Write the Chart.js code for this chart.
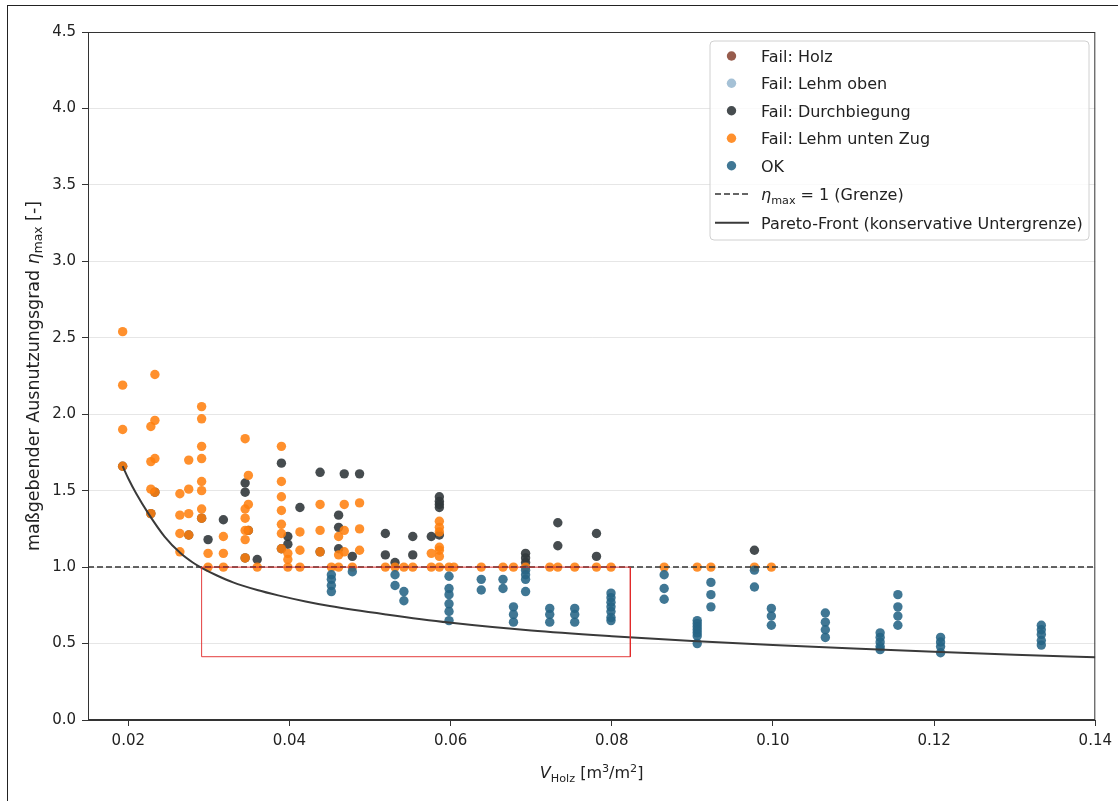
<!DOCTYPE html>
<html>
<head>
<meta charset="utf-8">
<script src="https://cdn.jsdelivr.net/npm/chart.js@4.4.1/dist/chart.umd.min.js"></script>
<style>
html,body{margin:0;padding:0;background:#fff;}
#wrap{position:relative;width:1118px;height:801px;overflow:hidden;}
#frame{position:absolute;left:7px;top:5px;right:-2px;bottom:-2px;border-left:1px solid #222;border-top:1px solid #222;pointer-events:none;}
canvas{position:absolute;left:0;top:0;}
</style>
</head>
<body>
<div id="wrap"><canvas id="c" width="1118" height="801" style="width:1118px;height:801px"></canvas><div id="frame"></div></div>
<script>
// ---------- DATA ----------
const xTicks = [0.02, 0.04, 0.06, 0.08, 0.10, 0.12, 0.14];
const xTickLabels = ['0.02', '0.04', '0.06', '0.08', '0.10', '0.12', '0.14'];
const yTicks = [0, 0.5, 1.0, 1.5, 2.0, 2.5, 3.0, 3.5, 4.0, 4.5];
const yTickLabels = ['0.0', '0.5', '1.0', '1.5', '2.0', '2.5', '3.0', '3.5', '4.0', '4.5'];
const xRange = [0.015, 0.14];
const yRange = [0, 4.5];

const seriesNames = ['Fail: Holz', 'Fail: Lehm oben', 'Fail: Durchbiegung', 'Fail: Lehm unten Zug', 'OK'];

// columns: [V_Holz, [eta values]]
const holzCols = [];
const lehmObenCols = [];
const durchCols = [
  [0.0193, [1.66]], [0.0228, [1.35]], [0.0233, [1.49]], [0.0275, [1.21]],
  [0.0291, [1.32]], [0.0299, [1.18]], [0.0318, [1.31]], [0.0345, [1.55, 1.49, 1.06]],
  [0.0349, [1.24]], [0.0360, [1.05]], [0.0390, [1.68, 1.12]], [0.0398, [1.20, 1.15]],
  [0.0413, [1.39]], [0.0438, [1.62, 1.10]], [0.0461, [1.34, 1.26, 1.12]], [0.0468, [1.61]],
  [0.0478, [1.07]], [0.0487, [1.61]], [0.0519, [1.22, 1.08]], [0.0531, [1.03]],
  [0.0553, [1.20, 1.08]], [0.0576, [1.20]], [0.0586, [1.46, 1.43, 1.41, 1.39, 1.21]],
  [0.0693, [1.09, 1.06, 1.03]], [0.0733, [1.29, 1.14]], [0.0781, [1.22, 1.07]], [0.0977, [1.11]]
];
const zugCols = [
  [0.0193, [2.54, 2.19, 1.90, 1.66]], [0.0228, [1.92, 1.69, 1.51, 1.35]],
  [0.0233, [2.26, 1.96, 1.71, 1.49]], [0.0264, [1.48, 1.34, 1.22, 1.10]],
  [0.0275, [1.70, 1.51, 1.35, 1.21]], [0.0291, [2.05, 1.97, 1.79, 1.71, 1.56, 1.50, 1.38, 1.32]],
  [0.0299, [1.09, 1.00]], [0.0318, [1.20, 1.09, 1.00]],
  [0.0345, [1.84, 1.38, 1.32, 1.24, 1.18, 1.06]], [0.0349, [1.60, 1.41, 1.24]],
  [0.0360, [1.00]], [0.0390, [1.79, 1.56, 1.46, 1.37, 1.28, 1.22, 1.12]],
  [0.0398, [1.09, 1.05, 1.00]], [0.0413, [1.23, 1.11, 1.00]], [0.0438, [1.41, 1.24, 1.10]],
  [0.0452, [1.00]], [0.0461, [1.20, 1.08, 1.00]], [0.0468, [1.41, 1.24, 1.10]],
  [0.0478, [1.00]], [0.0487, [1.42, 1.25, 1.11]], [0.0519, [1.00]], [0.0531, [1.00]],
  [0.0542, [1.00]], [0.0553, [1.00]], [0.0576, [1.09, 1.00]],
  [0.0586, [1.30, 1.26, 1.23, 1.13, 1.11, 1.07, 1.00]], [0.0598, [1.00]], [0.0604, [1.00]],
  [0.0638, [1.00]], [0.0665, [1.00]], [0.0678, [1.00]], [0.0693, [1.00]], [0.0723, [1.00]],
  [0.0733, [1.00]], [0.0754, [1.00]], [0.0781, [1.00]], [0.0799, [1.00]], [0.0865, [1.00]],
  [0.0906, [1.00]], [0.0923, [1.00]], [0.0977, [1.00]], [0.0998, [1.00]]
];
const okCols = [
  [0.0452, [0.95, 0.92, 0.88, 0.84]], [0.0478, [0.97]], [0.0531, [0.95, 0.88]],
  [0.0542, [0.84, 0.78]], [0.0598, [0.94, 0.86, 0.82, 0.76, 0.71, 0.65]],
  [0.0638, [0.92, 0.85]], [0.0665, [0.92, 0.86]], [0.0678, [0.74, 0.69, 0.64]],
  [0.0693, [0.98, 0.95, 0.92, 0.84]], [0.0723, [0.73, 0.69, 0.64]], [0.0754, [0.73, 0.69, 0.64]],
  [0.0799, [0.83, 0.80, 0.77, 0.74, 0.71, 0.67, 0.65]], [0.0865, [0.95, 0.86, 0.79]],
  [0.0906, [0.65, 0.63, 0.61, 0.59, 0.57, 0.55, 0.50]], [0.0923, [0.90, 0.82, 0.74]],
  [0.0977, [0.98, 0.87]], [0.0998, [0.73, 0.68, 0.62]], [0.1065, [0.70, 0.64, 0.59, 0.54]],
  [0.1133, [0.57, 0.54, 0.51, 0.48, 0.46]], [0.1155, [0.82, 0.74, 0.68, 0.62]],
  [0.1208, [0.54, 0.51, 0.48, 0.44]], [0.1333, [0.62, 0.59, 0.56, 0.52, 0.49]]
];

const limitX = [0.015, 0.14];
const limitEta = 1.0;

const paretoV   = [0.0193, 0.0200, 0.0210, 0.0225, 0.0245, 0.0265, 0.0280, 0.0291, 0.0310, 0.0330, 0.0360, 0.0386, 0.0420, 0.0450, 0.0520, 0.0598, 0.0700, 0.0800, 0.0900, 0.1000, 0.1100, 0.1200, 0.1300, 0.1400];
const paretoEta = [1.66,   1.58,   1.48,   1.35,   1.20,   1.09,   1.03,   0.995,  0.945,  0.90,   0.85,   0.815,  0.775,  0.745,  0.69,   0.637,  0.585,  0.548,  0.517,  0.49,   0.467,  0.446,  0.427,  0.41];

const boxV = [0.0291, 0.0823];
const boxEta = [0.414, 1.0];

// ---------- STYLE ----------
const FONT = '"DejaVu Sans", "Liberation Sans", sans-serif';
const FS_TICK = 15;
const FS = 16;
const FS_YTITLE = 17.5;
const colors = {
  holz: 'rgba(140,74,58,0.9)',
  lehmOben: 'rgba(155,186,210,0.9)',
  durch: 'rgba(50,56,60,0.9)',
  zug: 'rgba(255,127,14,0.87)',
  ok: 'rgba(38,100,133,0.88)'
};

const toPts = cols => cols.flatMap(([v, arr]) => arr.map(e => ({ x: v, y: e })));

const scatterDs = (label, cols, color, order) => ({
  type: 'scatter', label, data: toPts(cols),
  backgroundColor: color, borderColor: color, borderWidth: 0,
  pointRadius: 4.7, pointHoverRadius: 4.7, order
});

const datasets = [
  scatterDs(seriesNames[0], holzCols, colors.holz, 7),
  scatterDs(seriesNames[1], lehmObenCols, colors.lehmOben, 6),
  scatterDs(seriesNames[2], durchCols, colors.durch, 5),
  scatterDs(seriesNames[3], zugCols, colors.zug, 4),
  scatterDs(seriesNames[4], okCols, colors.ok, 3),
  {
    type: 'line', label: 'eta_max = 1 (Grenze)',
    data: limitX.map(v => ({ x: v, y: limitEta })),
    borderColor: '#333333', borderWidth: 1.5, borderDash: [6, 3], pointRadius: 0, order: 2
  },
  {
    type: 'line', label: 'Pareto-Front (konservative Untergrenze)',
    data: paretoV.map((v, i) => ({ x: v, y: paretoEta[i] })),
    borderColor: '#3a3a3a', borderWidth: 2, pointRadius: 0, cubicInterpolationMode: 'monotone', order: 1
  },
  {
    type: 'line', label: 'Bereich',
    data: [
      { x: boxV[0], y: boxEta[1] }, { x: boxV[1], y: boxEta[1] },
      { x: boxV[1], y: boxEta[0] }, { x: boxV[0], y: boxEta[0] },
      { x: boxV[0], y: boxEta[1] }
    ],
    borderColor: 'rgba(225,40,40,0.9)', borderWidth: 1, pointRadius: 0, tension: 0, order: 0
  }
];

// rich text helper
function fontFor(r, size) {
  const s = (r.sub || r.sup) ? size * 0.7 : size;
  return (r.it ? 'italic ' : '') + s + 'px ' + FONT;
}
function drawRuns(ctx, runs, x, y, size, align) {
  const widths = runs.map(r => { ctx.font = fontFor(r, size); return ctx.measureText(r.t).width; });
  const total = widths.reduce((a, b) => a + b, 0);
  let cx = align === 'center' ? x - total / 2 : (align === 'right' ? x - total : x);
  ctx.textAlign = 'left';
  ctx.textBaseline = 'alphabetic';
  runs.forEach((r, i) => {
    ctx.font = fontFor(r, size);
    const dy = r.sub ? size * 0.22 : (r.sup ? -size * 0.4 : 0);
    ctx.fillText(r.t, cx, y + dy);
    cx += widths[i];
  });
}

const decorPlugin = {
  id: 'decor',
  afterDatasetsDraw(chart) {
    const { ctx, chartArea: a } = chart;
    ctx.save();
    ctx.strokeStyle = '#333';
    ctx.lineWidth = 1;
    ctx.strokeRect(a.left + 0.5, a.top + 0.5, a.right - a.left - 1, a.bottom - a.top - 1);
    ctx.restore();
  },
  afterDraw(chart) {
    const { ctx, chartArea: a } = chart;
    ctx.save();
    ctx.fillStyle = '#222';
    // x title
    drawRuns(ctx, [
      { t: 'V', it: true }, { t: 'Holz', sub: true }, { t: ' [m' }, { t: '3', sup: true },
      { t: '/m' }, { t: '2', sup: true }, { t: ']' }
    ], (a.left + a.right) / 2, 778, FS, 'center');
    // y title
    ctx.save();
    ctx.translate(38.5, (a.top + a.bottom) / 2);
    ctx.rotate(-Math.PI / 2);
    drawRuns(ctx, [
      { t: 'maßgebender Ausnutzungsgrad ' }, { t: 'η', it: true }, { t: 'max', sub: true }, { t: ' [-]' }
    ], 0, 0, FS_YTITLE, 'center');
    ctx.restore();

    // legend
    const lx = 710, ly = 41, lw = 379, lh = 199;
    ctx.beginPath();
    const r = 4;
    ctx.moveTo(lx + r, ly);
    ctx.arcTo(lx + lw, ly, lx + lw, ly + lh, r);
    ctx.arcTo(lx + lw, ly + lh, lx, ly + lh, r);
    ctx.arcTo(lx, ly + lh, lx, ly, r);
    ctx.arcTo(lx, ly, lx + lw, ly, r);
    ctx.closePath();
    ctx.fillStyle = 'rgba(255,255,255,0.8)';
    ctx.fill();
    ctx.strokeStyle = '#d0d0d0';
    ctx.lineWidth = 1;
    ctx.stroke();

    const rows = [56, 83.3, 110.7, 138.3, 165.7, 194, 222.7];
    const markerX = 731.5, textX = 761;
    const ds = chart.data.datasets;
    for (let i = 0; i < 5; i++) {
      ctx.beginPath();
      ctx.fillStyle = ds[i].backgroundColor;
      ctx.arc(markerX, rows[i], 4.7, 0, Math.PI * 2);
      ctx.fill();
      ctx.fillStyle = '#222';
      drawRuns(ctx, [{ t: ds[i].label }], textX, rows[i] + 6, FS, 'left');
    }
    // dashed sample
    ctx.beginPath();
    ctx.strokeStyle = ds[5].borderColor;
    ctx.lineWidth = ds[5].borderWidth;
    ctx.setLineDash(ds[5].borderDash);
    ctx.moveTo(715, rows[5]); ctx.lineTo(749, rows[5]);
    ctx.stroke();
    ctx.setLineDash([]);
    ctx.fillStyle = '#222';
    drawRuns(ctx, [{ t: 'η', it: true }, { t: 'max', sub: true }, { t: ' = 1 (Grenze)' }], textX, rows[5] + 6, FS, 'left');
    // solid sample
    ctx.beginPath();
    ctx.strokeStyle = ds[6].borderColor;
    ctx.lineWidth = ds[6].borderWidth;
    ctx.moveTo(715, rows[6]); ctx.lineTo(749, rows[6]);
    ctx.stroke();
    ctx.fillStyle = '#222';
    drawRuns(ctx, [{ t: ds[6].label }], textX, rows[6] + 6, FS, 'left');
    ctx.restore();
  }
};

new Chart(document.getElementById('c'), {
  type: 'scatter',
  data: { datasets },
  options: {
    responsive: false,
    animation: false,
    events: [],
    layout: { padding: { left: 0, top: 32, right: 22, bottom: 0 } },
    plugins: { legend: { display: false }, tooltip: { enabled: false } },
    scales: {
      x: {
        type: 'linear', min: xRange[0], max: xRange[1],
        afterFit: s => { s.height = 81; },
        afterBuildTicks: s => { s.ticks = xTicks.map(v => ({ value: v })); },
        ticks: {
          font: { family: FONT, size: FS_TICK }, color: '#222', padding: 6,
          callback: (v) => { const i = xTicks.findIndex(t => Math.abs(t - v) < 1e-9); return i >= 0 ? xTickLabels[i] : ''; }
        },
        grid: { drawOnChartArea: false, drawTicks: true, tickLength: 6, tickColor: '#333', tickWidth: 1 },
        border: { display: true, color: '#333', width: 1 }
      },
      y: {
        type: 'linear', min: yRange[0], max: yRange[1],
        afterFit: s => { s.width = 88; },
        afterBuildTicks: s => { s.ticks = yTicks.map(v => ({ value: v })); },
        ticks: {
          font: { family: FONT, size: FS_TICK }, color: '#222', padding: 6,
          callback: (v) => { const i = yTicks.findIndex(t => Math.abs(t - v) < 1e-9); return i >= 0 ? yTickLabels[i] : ''; }
        },
        grid: { color: '#e6e6e6', lineWidth: 1, drawTicks: true, tickLength: 6, tickColor: '#333', tickWidth: 1 },
        border: { display: true, color: '#333', width: 1 }
      }
    }
  },
  plugins: [decorPlugin]
});
</script>
</body>
</html>
